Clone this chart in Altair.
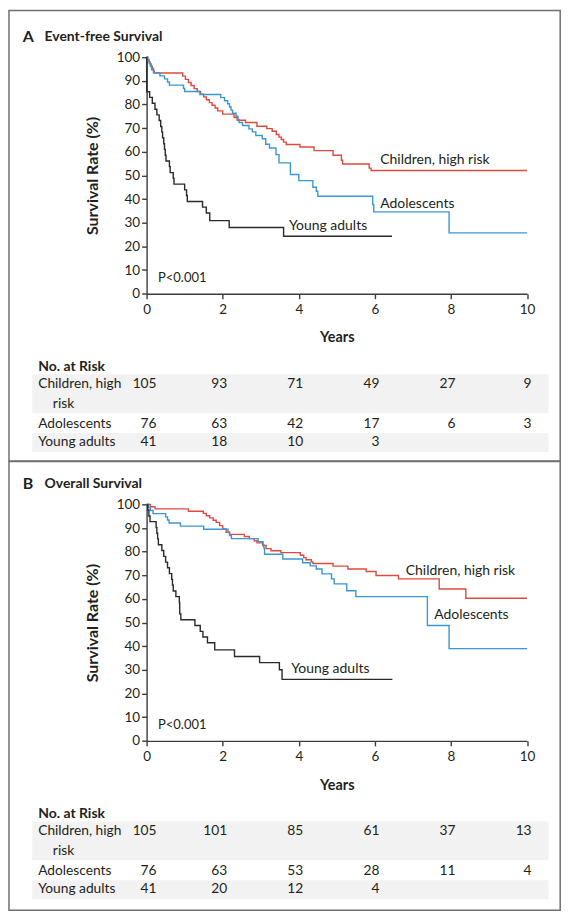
import altair as alt
import pandas as pd

# ---------------- data ----------------
YEAR_TICKS = [0, 2, 4, 6, 8, 10]
PCT_TICKS = [0, 10, 20, 30, 40, 50, 60, 70, 80, 90, 100]
GROUPS = ["Children, high risk", "Adolescents", "Young adults"]
COLORS = ["#DE4B3E", "#3B97D3", "#2A2A2A"]

# Panel A: event-free survival (step points: years, %)
efs_children_t = [0, 0.03, 0.06, 0.09, 0.12, 0.15, 0.18, 0.2, 0.95, 1.02, 1.1, 1.17, 1.25, 1.33, 1.42, 1.5,
                  1.57, 1.65, 1.72, 1.8, 1.87, 2.0, 2.3, 2.38, 2.6, 2.9, 3.16, 3.3, 3.41, 3.48, 3.54, 3.6, 3.67,
                  4.03, 4.4, 4.9, 5.12, 5.15, 5.85, 5.9, 10]
efs_children_s = [100, 99.0, 98.1, 97.1, 96.2, 95.2, 94.3, 93.3, 92.0, 90.6, 89.3, 88.0, 86.7, 85.5, 84.3, 83.2,
                  82.0, 80.8, 79.7, 78.5, 77.3, 75.9, 74.5, 73.3, 72.4, 70.8, 69.8, 68.7, 67.3, 66.2, 65.2, 64.1, 63.1,
                  62.0, 60.5, 58.5, 56.4, 54.8, 53.1, 52.1, 52.1]
efs_adol_t = [0, 0.03, 0.07, 0.1, 0.13, 0.18, 0.35, 0.47, 0.55, 0.6, 0.97, 1.0, 1.4, 1.95, 2.05, 2.13, 2.18, 2.22,
              2.26, 2.35, 2.4, 2.43, 2.52, 2.69, 2.78, 2.87, 3.04, 3.13, 3.23, 3.4, 3.48, 3.78, 4.0, 4.37, 4.46, 4.5,
              5.94, 5.97, 7.95, 10]
efs_adol_s = [100, 98.7, 97.4, 96.1, 94.7, 93.4, 92.1, 90.8, 89.5, 88.2, 86.8, 85.5, 84.2, 82.9, 81.6, 80.3, 78.9,
              77.6, 76.3, 75.0, 73.7, 72.4, 71.1, 69.7, 68.4, 66.9, 65.5, 63.2, 61.6, 58.8, 55.3, 50.4, 47.8, 45.0,
              43.3, 41.2, 37.7, 34.6, 25.7, 25.7]
efs_young_t = [0, 0.005, 0.08, 0.15, 0.22, 0.27, 0.33, 0.37, 0.4, 0.42, 0.45, 0.47, 0.49, 0.51, 0.6, 0.62, 0.7,
               0.72, 1.0, 1.05, 1.07, 1.47, 1.57, 1.66, 2.17, 3.6, 6.45]
efs_young_s = [100, 85.4, 83.0, 80.5, 78.0, 75.6, 73.2, 70.7, 68.3, 65.9, 63.4, 61.0, 58.5, 56.1, 53.7, 51.2, 48.8,
               46.3, 43.9, 41.5, 39.0, 36.6, 34.1, 30.9, 28.0, 24.3, 24.3]

# Panel B: overall survival
os_children_t = [0, 0.1, 0.22, 1.1, 1.49, 1.57, 1.66, 1.75, 1.83, 1.92, 2.0, 2.09, 2.18, 2.57, 2.7, 2.83, 2.9,
                 3.05, 3.14, 3.27, 3.53, 4.04, 4.13, 4.19, 4.33, 4.37, 4.9, 5.29, 5.77, 6.03, 6.62, 7.69, 8.39, 10]
os_children_s = [100, 99.0, 98.1, 97.1, 96.2, 95.2, 94.3, 93.3, 92.4, 91.0, 89.6, 88.2, 87.3, 86.4, 85.5, 84.6,
                 83.7, 82.6, 81.3, 80.4, 79.6, 78.5, 77.5, 76.6, 75.7, 75.0, 73.9, 72.7, 71.6, 69.9, 68.5, 64.2,
                 60.3, 60.3]
os_adol_t = [0, 0.05, 0.1, 0.17, 0.5, 0.55, 0.59, 0.89, 1.5, 2.14, 2.18, 2.23, 2.93, 3.06, 3.08, 3.1, 3.58, 4.1,
             4.3, 4.46, 4.61, 4.86, 4.93, 5.26, 5.5, 7.38, 7.95, 10]
os_adol_s = [100, 98.7, 97.4, 96.1, 94.7, 93.4, 92.1, 90.8, 89.5, 88.2, 86.8, 85.5, 84.2, 82.9, 81.6, 78.9, 76.9,
             75.3, 74.0, 72.7, 70.6, 68.5, 66.4, 63.5, 61.0, 48.8, 39.0, 39.0]
os_young_t = [0, 0.03, 0.06, 0.09, 0.25, 0.27, 0.29, 0.31, 0.4, 0.45, 0.5, 0.55, 0.6, 0.66, 0.68, 0.7, 0.77, 0.86,
              0.87, 0.9, 1.27, 1.41, 1.48, 1.6, 1.79, 2.31, 2.97, 3.49, 3.56, 6.46]
os_young_s = [100, 97.6, 95.1, 92.7, 90.2, 87.8, 85.4, 82.9, 80.5, 78.0, 75.6, 73.2, 70.7, 68.3, 65.9, 63.4, 61.0,
              58.5, 53.7, 51.2, 48.8, 46.3, 43.9, 41.5, 38.5, 35.7, 33.1, 30.1, 26.0, 26.0]

# Number at risk
efs_risk = [[105, 93, 71, 49, 27, 9], [76, 63, 42, 17, 6, 3], [41, 18, 10, 3]]
os_risk = [[105, 101, 85, 61, 37, 13], [76, 63, 53, 28, 11, 4], [41, 20, 12, 4]]

# Curve label anchors (years, %)
efs_label_t = [6.14, 6.14, 3.74]
efs_label_s = [56.4, 38.0, 28.5]
os_label_t = [6.81, 7.56, 3.80]
os_label_s = [72.0, 53.4, 30.2]
P_TEXT = "P<0.001"
P_T, P_S = 0.3, 6.7

# ---------------- style ----------------
W, H = 381.6, 237.2
FONT = "Lato"
INK = "#231F20"
AXIS_INK = "#3C3C3C"
TABLE_FS = 13.8


def curves_df(ts, ss):
    rows = []
    for g, tl, sl in zip(GROUPS, ts, ss):
        for a, b in zip(tl, sl):
            rows.append({"group": g, "t": a, "s": b})
    return pd.DataFrame(rows)


def blank():
    return alt.Chart(alt.Data(values=[{}]))


x_enc = alt.X(
    "t:Q",
    scale=alt.Scale(domain=[0, 10], nice=False, zero=False),
    axis=alt.Axis(values=YEAR_TICKS, title="Years", titleY=44.3, titleBaseline="middle",
                  titleFontSize=14.5,
                  labelPadding=4, tickSize=5, format="d", labelFlush=False, labelOverlap=False),
)
y_enc = alt.Y(
    "s:Q",
    scale=alt.Scale(domain=[0, 100], nice=False),
    axis=alt.Axis(values=PCT_TICKS, title="Survival Rate (%)", titleX=-54.7, titleY=H / 2,
                  titleAngle=270, titleBaseline="middle", titleAlign="center", titleFontSize=16,
                  labelPadding=2, tickSize=5, format="d", labelFlush=False, labelOverlap=False),
)


def panel(letter, title, curves, risk, lab_t, lab_s, top_rel, bottom_rel):
    border = blank().mark_rect(fillOpacity=0, stroke="#707070", strokeWidth=1.5).encode(
        x=alt.value(-138), x2=alt.value(414.8), y=alt.value(top_rel), y2=alt.value(bottom_rel))
    band1 = blank().mark_rect(fill="#F2F2F2").encode(
        x=alt.value(-114.7), x2=alt.value(403), y=alt.value(318), y2=alt.value(357))
    band3 = blank().mark_rect(fill="#F2F2F2").encode(
        x=alt.value(-114.7), x2=alt.value(403), y=alt.value(377), y2=alt.value(396))

    lines = alt.Chart(curves).mark_line(interpolate="step-after", strokeWidth=1.4).encode(
        x=x_enc, y=y_enc,
        color=alt.Color("group:N", scale=alt.Scale(domain=GROUPS, range=COLORS), legend=None),
    )
    labels = alt.Chart(pd.DataFrame({"group": GROUPS, "t": lab_t, "s": lab_s})).mark_text(
        align="left", baseline="middle", font=FONT, fontSize=14, color=INK
    ).encode(x=x_enc, y=y_enc, text="group:N")
    ptext = alt.Chart(pd.DataFrame({"txt": [P_TEXT], "t": [P_T], "s": [P_S]})).mark_text(
        align="left", baseline="middle", font=FONT, fontSize=13, color=INK
    ).encode(x=x_enc, y=y_enc, text="txt:N")

    t_letter = blank().mark_text(align="left", baseline="middle", font=FONT, fontSize=16,
                                 fontWeight="bold", color=INK, text=letter).encode(
        x=alt.value(-124.2), y=alt.value(-20.5))
    t_title = blank().mark_text(align="left", baseline="middle", font=FONT, fontSize=14,
                                fontWeight="bold", color=INK, text=title).encode(
        x=alt.value(-102.4), y=alt.value(-20.5))

    header = blank().mark_text(align="left", baseline="middle", font=FONT, fontSize=14,
                               fontWeight="bold", color=INK, text="No. at Risk").encode(
        x=alt.value(-108.7), y=alt.value(311))
    row_y = [328, 367.5, 386]
    row_layers = [header]
    row_names = ["Children, high", "Adolescents", "Young adults"]
    for name, yy in zip(row_names, row_y):
        row_layers.append(blank().mark_text(align="left", baseline="middle", font=FONT, fontSize=TABLE_FS,
                                            color=INK, text=name).encode(x=alt.value(-108.7), y=alt.value(yy)))
    row_layers.append(blank().mark_text(align="left", baseline="middle", font=FONT, fontSize=TABLE_FS,
                                        color=INK, text="risk").encode(x=alt.value(-94), y=alt.value(348)))
    for vals, yy in zip(risk, row_y):
        df = pd.DataFrame({"t": YEAR_TICKS[:len(vals)], "n": vals})
        base = alt.Chart(df)
        first = base.transform_filter("datum.t == 0").mark_text(
            align="right", baseline="middle", font=FONT, fontSize=TABLE_FS, color=INK, dx=10
        ).encode(x=x_enc, y=alt.value(yy), text="n:Q")
        rest = base.transform_filter("datum.t > 0").mark_text(
            align="right", baseline="middle", font=FONT, fontSize=TABLE_FS, color=INK, dx=4.5
        ).encode(x=x_enc, y=alt.value(yy), text="n:Q")
        row_layers += [first, rest]

    return alt.layer(border, band1, band3, lines, labels, ptext, t_letter, t_title, *row_layers).properties(
        width=W, height=H)


panel_a = panel("A", "Event-free Survival",
                curves_df([efs_children_t, efs_adol_t, efs_young_t], [efs_children_s, efs_adol_s, efs_young_s]),
                efs_risk, efs_label_t, efs_label_s, -46.75, 405)
panel_b = panel("B", "Overall Survival",
                curves_df([os_children_t, os_adol_t, os_young_t], [os_children_s, os_adol_s, os_young_s]),
                os_risk, os_label_t, os_label_s, -43, 407)

chart = alt.vconcat(panel_a, panel_b, spacing=-1.5).properties(padding=0, background="white").configure_view(
    strokeWidth=0
).configure_axis(
    grid=False, domainColor=AXIS_INK, domainWidth=1.4, tickColor=AXIS_INK, tickWidth=1.4,
    labelFont=FONT, labelFontSize=13.5, labelColor=INK,
    titleFont=FONT, titleFontSize=14, titleFontWeight="bold", titleColor=INK,
)

chart.save("out.html", embed_options={"renderer": "svg", "actions": False})
